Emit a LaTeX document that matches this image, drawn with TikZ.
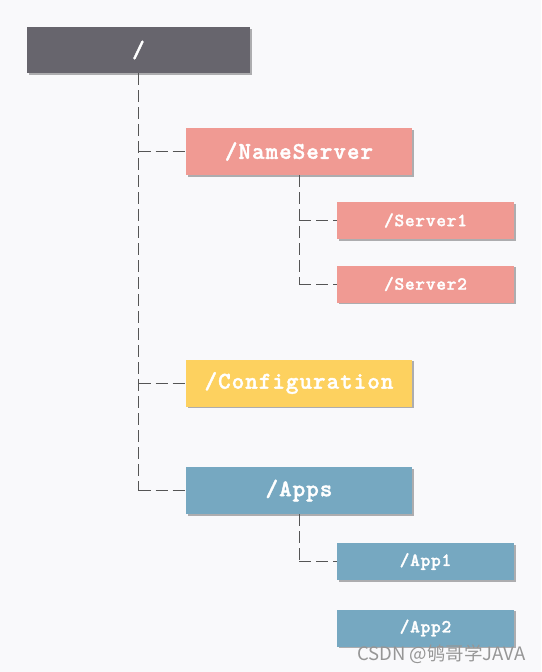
\documentclass[tikz,border=0pt]{standalone}
\usepackage{fontspec}
\newfontfamily\courfont{lmmonolt10-bold.otf}[LetterSpace=4,FakeBold=1.6]
\newfontfamily\cjkfont{Noto Sans CJK SC}
\usetikzlibrary{shadows}
\definecolor{bgc}{RGB}{249,249,251}
\definecolor{rootc}{RGB}{103,101,109}
\definecolor{salmonc}{RGB}{240,154,147}
\definecolor{yellowc}{RGB}{253,209,95}
\definecolor{bluec}{RGB}{118,168,193}
\definecolor{linec}{RGB}{85,85,85}
\definecolor{markc}{RGB}{150,150,150}
\tikzset{
  box/.style={rectangle, inner sep=0pt, text=white,
    font=\courfont\fontsize{24}{26}\selectfont,
    drop shadow={shadow xshift=1.6pt, shadow yshift=-1.6pt, opacity=0.3, fill=black}},
  bigbox/.style={box, minimum width=226pt, minimum height=47pt},
  smallbox/.style={box, minimum width=177pt, minimum height=37pt,
    font=\courfont\fontsize{18.5}{20}\selectfont},
  link/.style={draw=linec, line width=1pt, dash pattern=on 12pt off 5pt}
}
\begin{document}
\begin{tikzpicture}[x=1pt,y=-1pt]
\fill[bgc] (0,0) rectangle (541,672);
\useasboundingbox (0,0) rectangle (541,672);
\node[bigbox, fill=rootc, minimum width=223pt, minimum height=46pt] (root) at (138.5,50) {/};
\node[bigbox, fill=salmonc] (ns) at (299,151.5) {/NameServer};
\node[smallbox, fill=salmonc] (s1) at (425.5,220.5) {/Server1};
\node[smallbox, fill=salmonc] (s2) at (425.5,284) {/Server2};
\node[bigbox, fill=yellowc] (cfg) at (299,383) {/Configuration};
\node[bigbox, fill=bluec] (apps) at (299,490.5) {/Apps};
\node[smallbox, fill=bluec] (a1) at (425.5,561.5) {/App1};
\node[smallbox, fill=bluec] (a2) at (425.5,628) {/App2};
% trunk from root
\draw[link] (root.south) -- (root.south |- apps.west);
\draw[link] (root.south |- ns.west) -- (ns.west);
\draw[link] (root.south |- cfg.west) -- (cfg.west);
\draw[link] (root.south |- apps.west) -- (apps.west);
% branch from NameServer
\draw[link] (ns.south) -- (ns.south |- s2.west);
\draw[link] (ns.south |- s1.west) -- (s1.west);
\draw[link] (ns.south |- s2.west) -- (s2.west);
% branch from Apps
\draw[link] (apps.south) -- (apps.south |- a1.west);
\draw[link] (apps.south |- a1.west) -- (a1.west);
\node[anchor=west, inner sep=0pt, text=markc, font=\cjkfont\fontsize{18.5}{20}\selectfont] (wm) at (357,654) {CSDN @鸲哥学JAVA};
\end{tikzpicture}
\end{document}
